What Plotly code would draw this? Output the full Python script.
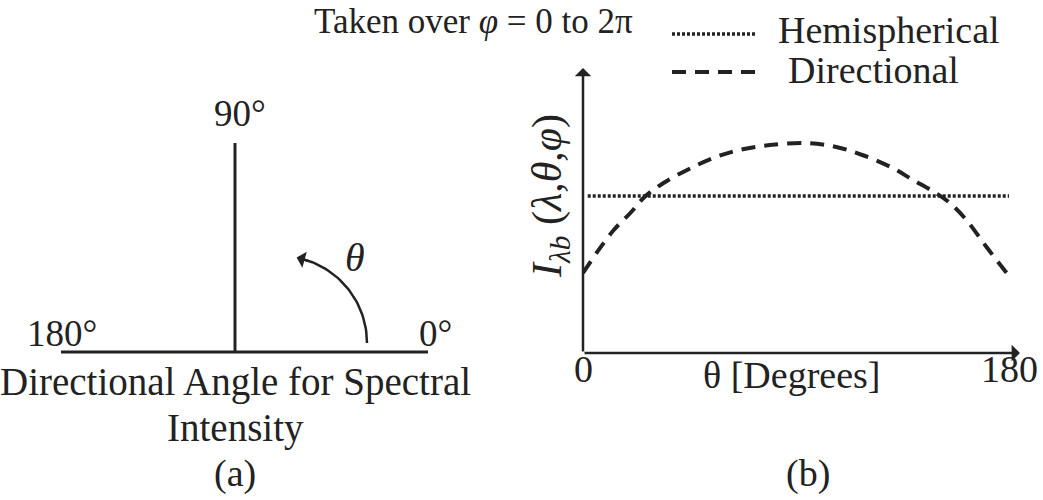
import numpy as np
import plotly.graph_objects as go

W, H = 1043, 500
FONT = "Liberation Serif"
INK = "#222222"

# ---- Panel (b) data ----
theta_deg = [0, 6, 13, 20, 26, 34, 44, 55, 66, 79, 94.5, 107, 118, 130, 139.5, 149, 155, 162, 170.5, 180]
directional = [80, 101, 123, 140, 156, 170, 183, 195, 203, 208, 210, 206, 198, 186, 173, 160, 150, 133, 106, 77]
hemi_theta = [2, 180]
hemi_value = [157, 157]
x_ticks = [0, 180]
x_tick_text = ["0", "180"]

# ---- Panel (a) schematic ----
dir_angles = [0, 90, 180]
dir_labels = ["0°", "90°", "180°"]
dir_lengths = [193, 209, 174]

def px(x):
    return x / W

def py(y):
    return 1 - y / H

def txt(x, y, text, size=37, **kw):
    d = dict(x=px(x), y=py(y), xref="paper", yref="paper", text=text, showarrow=False,
             xanchor="center", yanchor="middle", font=dict(family=FONT, size=size, color=INK))
    d.update(kw)
    return d

fig = go.Figure()

# panel (b) curves
fig.add_trace(go.Scatter(x=theta_deg, y=directional, mode="lines", line_shape="spline",
                         line=dict(color=INK, width=4, dash="14px,9px"), hoverinfo="skip"))
fig.add_trace(go.Scatter(x=hemi_theta, y=hemi_value, mode="lines",
                         line=dict(color=INK, width=3.5, dash="3px,2px"), hoverinfo="skip"))

# panel (a) lines
ang = np.deg2rad(dir_angles)
ex = np.array(dir_lengths) * np.cos(ang)
ey = np.array(dir_lengths) * np.sin(ang)
fig.add_trace(go.Scatter(x=[ex[2], ex[0]], y=[0, 0], mode="lines", line=dict(color=INK, width=3),
                         xaxis="x2", yaxis="y2", hoverinfo="skip"))
fig.add_trace(go.Scatter(x=[0, ex[1]], y=[0, ey[1]], mode="lines", line=dict(color=INK, width=3),
                         xaxis="x2", yaxis="y2", hoverinfo="skip"))
# arc arrow
cx, cy, r = 45, 9, 87
t = np.deg2rad(np.linspace(0, 76, 40))
fig.add_trace(go.Scatter(x=cx + r * np.cos(t), y=cy + r * np.sin(t), mode="lines",
                         line=dict(color=INK, width=2.5), xaxis="x2", yaxis="y2", hoverinfo="skip"))

ann = []
ta, tb = np.deg2rad(79), np.deg2rad(70)
ann.append(dict(x=cx + r * np.cos(ta), y=cy + r * np.sin(ta), ax=cx + r * np.cos(tb), ay=cy + r * np.sin(tb),
                xref="x2", yref="y2", axref="x2", ayref="y2", showarrow=True, arrowhead=1,
                arrowwidth=2.5, arrowsize=1.1, arrowcolor=INK, text=""))
lab_pos = [(200, 19), (5, 239), (-173, 19)]
for (lx, ly), t_ in zip(lab_pos, dir_labels):
    ann.append(dict(x=lx, y=ly, xref="x2", yref="y2", text=t_, showarrow=False,
                    xanchor="center", yanchor="middle", font=dict(family=FONT, size=37, color=INK)))
ann.append(dict(x=120, y=95, xref="x2", yref="y2", text="<i>θ</i>", showarrow=False,
                xanchor="center", yanchor="middle", font=dict(family=FONT, size=40, color=INK)))

# axis arrows for panel (b)
ann.append(dict(x=0, y=285, ax=0, ay=0, xref="x", yref="y", axref="x", ayref="y", showarrow=True,
                arrowhead=1, arrowwidth=2.5, arrowsize=1.1, arrowcolor=INK, text=""))
ann.append(dict(x=184.6, y=0, ax=0, ay=0, xref="x", yref="y", axref="x", ayref="y", showarrow=True,
                arrowhead=1, arrowwidth=2.5, arrowsize=1.1, arrowcolor=INK, text=""))

# tick labels
for xv, t_ in zip(x_ticks, x_tick_text):
    ann.append(dict(x=xv, y=py(369), xref="x", yref="paper", text=t_, showarrow=False,
                    xanchor="center", yanchor="middle", font=dict(family=FONT, size=38, color=INK)))
ann.append(txt(792, 375, "θ [Degrees]", 38))
ann.append(txt(550, 196, "<i>I</i><sub><i>λb</i></sub> (<i>λ</i>,<i>θ</i>,<i>φ</i>)", 42, textangle=-90))

# title and legend
ann.append(txt(473, 21, "Taken over <i>φ</i> = 0 to 2π", 35))
ann.append(txt(776, 30, "Hemispherical", 38, xanchor="left"))
ann.append(txt(786, 70, "Directional", 38, xanchor="left"))

# captions
ann.append(txt(235, 382, "Directional Angle for Spectral", 39))
ann.append(txt(235, 428, "Intensity", 39))
ann.append(txt(235, 473, "(a)", 38))
ann.append(txt(808, 473, "(b)", 38))

shapes = [
    dict(type="line", xref="paper", yref="paper", x0=px(672), x1=px(757), y0=py(34), y1=py(34),
         line=dict(color=INK, width=3.5, dash="3px,2px")),
    dict(type="line", xref="paper", yref="paper", x0=px(672), x1=px(760), y0=py(72), y1=py(72),
         line=dict(color=INK, width=4, dash="14px,9px")),
]

xpx = (1009 - 583) / 180.0
fig.update_layout(
    width=W, height=H, margin=dict(l=0, r=0, t=0, b=0),
    paper_bgcolor="white", plot_bgcolor="rgba(0,0,0,0)", showlegend=False,
    xaxis=dict(domain=[px(583), px(1030)], range=[0, (1030 - 583) / xpx], visible=False),
    yaxis=dict(domain=[py(353), py(60)], range=[0, 293], visible=False),
    xaxis2=dict(domain=[0, px(480)], range=[-235, 245], visible=False, anchor="y2"),
    yaxis2=dict(domain=[0, 1], range=[-148, 352], visible=False, anchor="x2"),
    annotations=ann, shapes=shapes,
)
fig.write_html("out.html", config={"displayModeBar": False},
               post_script="document.body.style.margin='0';document.body.style.padding='0';")
